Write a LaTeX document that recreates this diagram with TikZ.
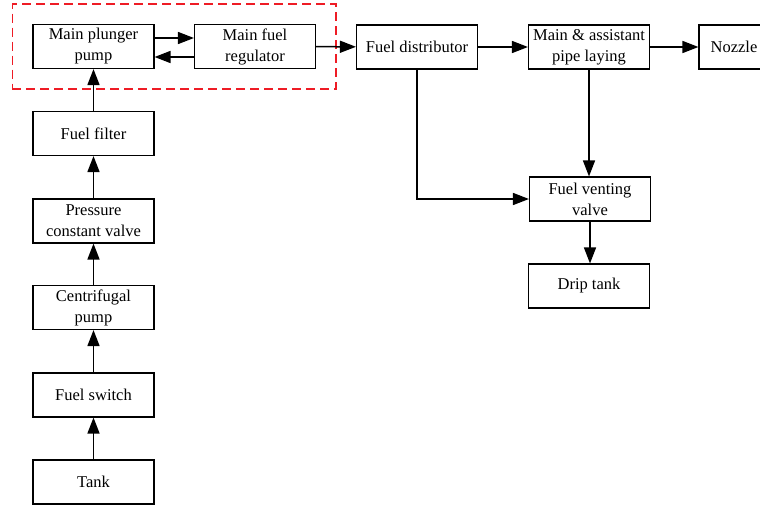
\documentclass[tikz,border=0pt]{standalone}
\usepackage{fontspec}
\setmainfont{Liberation Serif}
\usetikzlibrary{arrows.meta,positioning,fit}
\definecolor{ink}{HTML}{000000}
\definecolor{frame}{HTML}{EE1C25}
\tikzset{
  box/.style={draw=ink,line width=1.1pt,align=center,font=\fontsize{16.5}{21}\selectfont,
    minimum width=121pt,minimum height=44pt,inner sep=2pt},
  arr/.style={-{Triangle[length=16pt,width=12pt]},line width=1.5pt,draw=ink},
  group/.style={draw=frame,line width=1.4pt,dash pattern=on 9pt off 5pt,inner sep=20pt},
}
\begin{document}
\begin{tikzpicture}[x=1pt,y=1pt]
  \useasboundingbox (0,0) rectangle (760,-506);
  % supply column
  \node[box] (tank) at (93.5,-482) {Tank};
  \node[box] (switch) at (93.5,-395) {Fuel switch};
  \node[box] (centri) at (93.5,-307.5) {Centrifugal\\pump};
  \node[box] (pcv) at (93.5,-221) {Pressure\\constant valve};
  \node[box] (filter) at (93.5,-133.5) {Fuel filter};
  % main line
  \node[box] (plunger) at (93.5,-46.5) {Main plunger\\pump};
  \node[box] (regulator) at (255,-46.5) {Main fuel\\regulator};
  \node[box] (distrib) at (417,-47) {Fuel distributor};
  \node[box] (piping) at (589,-47) {Main \& assistant\\pipe laying};
  \node[box,minimum width=70pt] (nozzle) at (734,-47) {Nozzle};
  \node[box] (venting) at (590,-199) {Fuel venting\\valve};
  \node[box] (drip) at (589,-286) {Drip tank};
  \node[group,fit=(plunger)(regulator)] (pumpgroup) {};
  \draw[arr] (tank) -- (switch);
  \draw[arr] (switch) -- (centri);
  \draw[arr] (centri) -- (pcv);
  \draw[arr] (pcv) -- (filter);
  \draw[arr] (filter) -- (plunger);
  \draw[arr] ([yshift=8.5pt]plunger.east) -- ([yshift=8.5pt]regulator.west);
  \draw[arr] ([yshift=-10.5pt]regulator.west) -- ([yshift=-10.5pt]plunger.east);
  \draw[arr] (regulator) -- (distrib);
  \draw[arr] (distrib) -- (piping);
  \draw[arr] (piping) -- (nozzle);
  \draw[arr] (distrib.south) |- (venting.west);
  \draw[arr] (piping.south) -- (piping.south |- venting.north);
  \draw[arr] (venting) -- (venting |- drip.north);
\end{tikzpicture}
\end{document}
